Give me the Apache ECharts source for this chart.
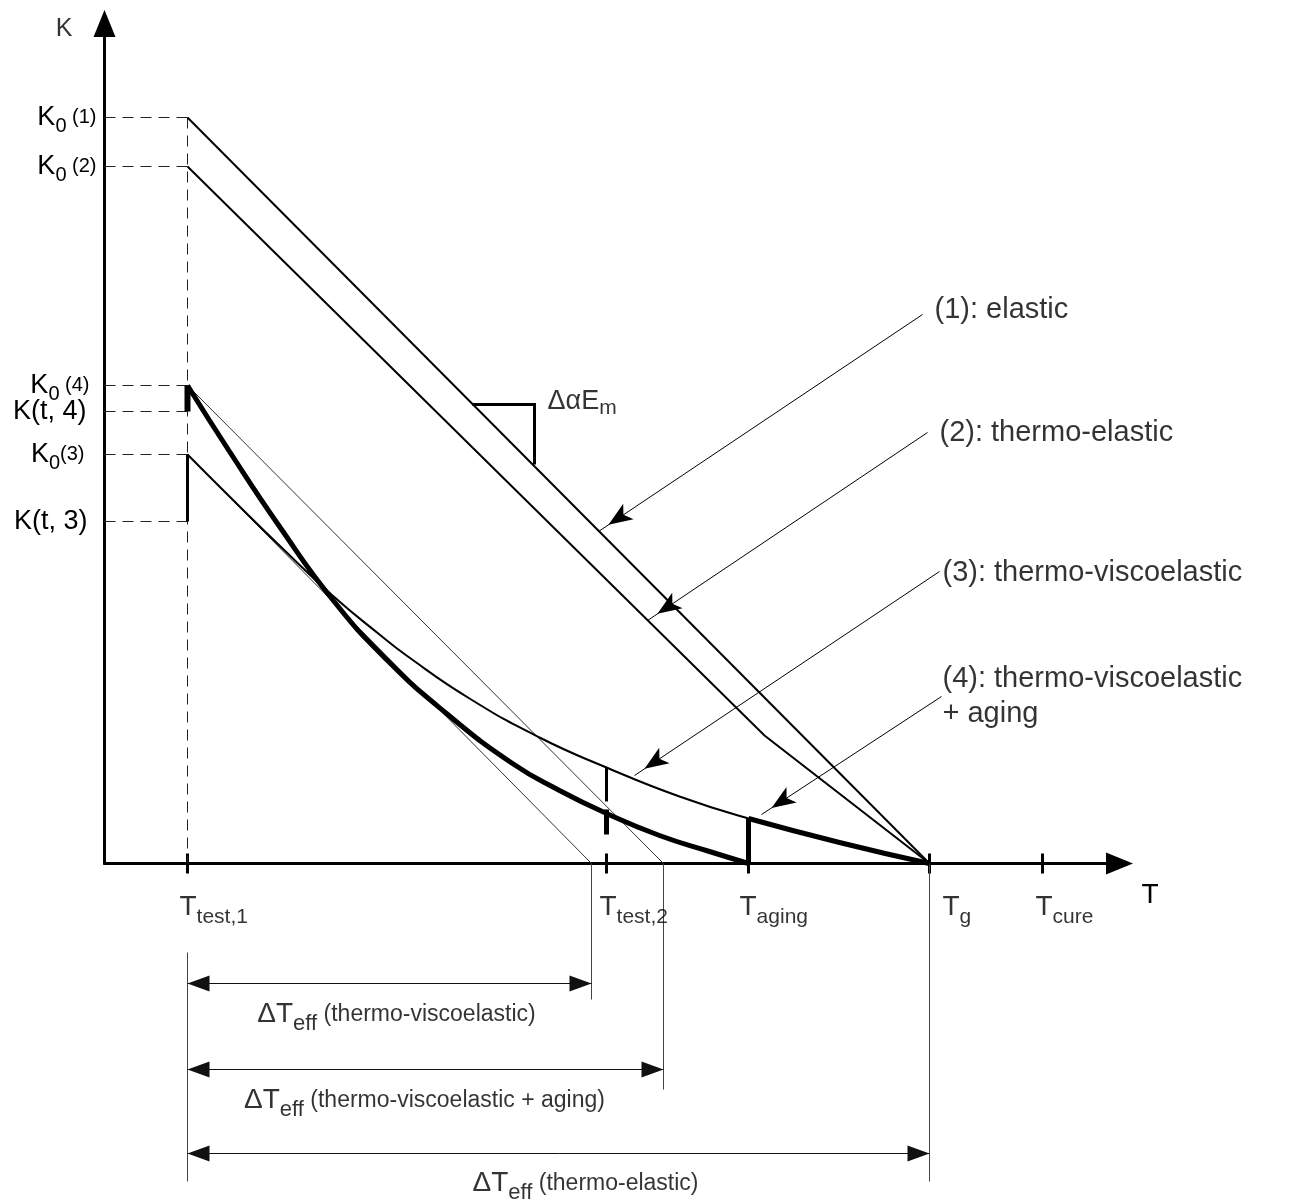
<!DOCTYPE html>
<html>
<head>
<meta charset="utf-8">
<title>K versus T</title>
<script src="https://cdn.jsdelivr.net/npm/echarts@6.0.0/dist/echarts.min.js"></script>
<style>
html, body { margin: 0; padding: 0; background: #fff; }
#chart { width: 1292px; height: 1204px; }
</style>
</head>
<body>
<div id="chart"></div>
<script>
// ===================== values (schematic T / K units) =====================
const T_TICKS      = [83, 502, 644, 825, 938];
const T_TICK_SUBS  = ['test,1', 'test,2', 'aging', 'g', 'cure'];

const K_LEVELS     = [746, 697, 478, 452, 409, 342];
const K_MAIN       = ['K', 'K', 'K', 'K(t, 4)', 'K', 'K(t, 3)'];
const K_SUB        = ['0', '0', '0', '', '0', ''];
const K_TAIL       = [' (1)', ' (2)', ' (4)', '', '(3)', ''];

const ELASTIC_T    = [83, 825];
const ELASTIC_K    = [746, 0];
const THERMO_EL_T  = [83, 660, 825];
const THERMO_EL_K  = [697, 128, 0];
const VISCO_T      = [83, 125, 175, 228, 275, 302, 365, 435, 502, 575, 644, 735, 825];
const VISCO_K      = [409, 367, 318, 268, 229, 208, 165, 126, 96, 67, 45, 21, 0];
const AGING_T      = [83, 125, 175, 228, 282, 342, 408, 455, 502, 555, 605, 644];
const AGING_K      = [478, 412, 337, 264, 204, 150, 100, 73, 50, 28, 12, 0];
const TAN4_T       = [83, 559];
const TAN4_K       = [478, 0];
const TAN3_T       = [83, 487];
const TAN3_K       = [409, 0];
const SLOPE_T      = [368, 430, 430];
const SLOPE_K      = [459, 459, 399];

// relaxation drops: T, K at top, K at bottom
const DROP_T       = [83, 83, 502, 502, 644];
const DROP_K_TOP   = [409, 478, 96, 54, 45];
const DROP_K_BOT   = [342, 452, 62, 29, 0];

// annotation arrows
const NOTE_TEXT    = ['(1): elastic', '(2): thermo-elastic', '(3): thermo-viscoelastic', '(4): thermo-viscoelastic\n+ aging'];
const NOTE_FROM_T  = [818, 823, 835, 837];
const NOTE_FROM_K  = [549, 431, 292, 167];
const NOTE_TO_T    = [494, 543, 530, 657];
const NOTE_TO_K    = [332, 243, 88, 49];

// effective temperature spans
const DT_END_T     = [487, 559, 825];
const DT_TEXT      = ['thermo-viscoelastic', 'thermo-viscoelastic + aging', 'thermo-elastic'];

// ===================== layout / style (not data) =====================
const FONT = "'Liberation Sans', Arial, Helvetica, sans-serif";
const DROP_WIDTH   = [3, 6, 3, 5, 5];
const K_LABEL_PAD  = [0, 0, 7, 10, 12, 9];
const T_LABEL_DX   = [-8, -7, -9, 13, -7];
const NOTE_DX      = [12, 12, 3, 1];
const NOTE_DY      = [-5, 0, 1, 0];
const DT_ROW       = [120, 206, 290];      // px below the T axis (lower helper grid)
const DT_LABEL_ROW = [151, 237, 320];
const DT_LABEL_T   = [292, 320, 481];
const DT_EXT_END   = [136, 226, 318];
const DT_EXT_START = [89, 318];

const pts = (xs, ys) => xs.map((x, i) => [x, ys[i]]);

function line(xs, ys, style, extra) {
  return Object.assign({
    type: 'line', xAxisIndex: 0, yAxisIndex: 0, data: pts(xs, ys), symbol: 'none',
    silent: true, animation: false, clip: false, z: 3,
    emphasis: { disabled: true },
    lineStyle: Object.assign({ color: '#000', width: 2, type: 'solid', cap: 'butt', join: 'miter' }, style)
  }, extra || {});
}

function textSeries(xi, yi, items, labelBase) {
  return {
    type: 'scatter', xAxisIndex: xi, yAxisIndex: yi, symbolSize: 1, clip: false, silent: true,
    animation: false, z: 20, emphasis: { disabled: true },
    itemStyle: { color: 'rgba(0,0,0,0)' },
    label: Object.assign({
      show: true, position: 'inside', color: '#000', fontFamily: FONT,
      formatter: p => items[p.dataIndex].text
    }, labelBase),
    data: items.map(it => ({ value: [it.x, it.y], label: { align: it.align, verticalAlign: it.va, offset: it.off } }))
  };
}

const series = [];

// dashed reference lines
const dash = { color: '#222', width: 1, type: [11, 7] };
K_LEVELS.forEach(k => series.push(line([0, T_TICKS[0]], [k, k], dash)));
series.push(line([T_TICKS[0], T_TICKS[0]], [K_LEVELS[0], 0], dash));

// thin construction lines (parallel to elastic slope)
series.push(line(TAN4_T, TAN4_K, { color: '#333', width: 1 }));
series.push(line(TAN3_T, TAN3_K, { color: '#333', width: 1 }));

// (1) elastic, (2) thermo-elastic
series.push(line(ELASTIC_T, ELASTIC_K, { width: 2 }));
series.push(line(THERMO_EL_T, THERMO_EL_K, { width: 2 }));

// (3) thermo-viscoelastic
series.push(line(VISCO_T, VISCO_K, { width: 2 }, { smooth: 0.5 }));
// (4) thermo-viscoelastic + aging
series.push(line(AGING_T, AGING_K, { width: 5, join: 'round' }, { smooth: 0.5, z: 4 }));
const tailStart = VISCO_T.indexOf(T_TICKS[2]);
series.push(line(VISCO_T.slice(tailStart), VISCO_K.slice(tailStart), { width: 5 }, { smooth: 0.5, z: 4 }));

// relaxation drops
DROP_T.forEach((t, i) => series.push(line([t, t], [DROP_K_TOP[i], DROP_K_BOT[i]], { width: DROP_WIDTH[i] }, { z: 5 })));

// slope triangle
series.push(line(SLOPE_T, SLOPE_K, { width: 3 }));

// annotation arrows
series.push({
  type: 'line', xAxisIndex: 0, yAxisIndex: 0, data: [], symbol: 'none', silent: true, animation: false, clip: false,
  markLine: {
    silent: true, animation: false,
    symbol: ['none', 'arrow'], symbolSize: [14, 24], symbolOffset: [0, [0, 12]],
    itemStyle: { color: '#000' },
    lineStyle: { color: '#000', width: 1, type: 'solid' },
    label: { show: false }, emphasis: { disabled: true },
    data: NOTE_TO_T.map((t, i) => [{ coord: [NOTE_FROM_T[i], NOTE_FROM_K[i]] }, { coord: [t, NOTE_TO_K[i]] }])
  }
});

// lower helper grid: extension lines and ΔT arrows
function lline(xs, ys, style) {
  return line(xs, ys, style, { xAxisIndex: 2, yAxisIndex: 1 });
}
series.push(lline([T_TICKS[0], T_TICKS[0]], DT_EXT_START, { color: '#444', width: 1 }));
DT_END_T.forEach((t, i) => series.push(lline([t, t], [0, DT_EXT_END[i]], { color: '#444', width: 1 })));
series.push({
  type: 'line', xAxisIndex: 2, yAxisIndex: 1, data: [], symbol: 'none', silent: true, animation: false, clip: false,
  markLine: {
    silent: true, animation: false,
    symbol: ['triangle', 'triangle'], symbolSize: [16, 22], symbolOffset: [[0, 11], [0, 11]],
    itemStyle: { color: '#000' },
    lineStyle: { color: '#111', width: 1, type: 'solid' },
    label: { show: false }, emphasis: { disabled: true },
    data: DT_END_T.map((t, i) => [{ coord: [T_TICKS[0], DT_ROW[i]] }, { coord: [t, DT_ROW[i]] }])
  }
});

// ---------- texts ----------
// axis name K
series.push(textSeries(0, 0, [{ x: 0, y: 840, text: 'K', align: 'right', va: 'middle', off: [-32, 6] }],
  { fontSize: 25 }));

// T tick labels
series.push(textSeries(2, 1, T_TICKS.map((t, i) => ({
  x: t, y: 0, text: '{b|T}{s|' + T_TICK_SUBS[i] + '}', align: 'left', va: 'middle', off: [T_LABEL_DX[i], 44]
})), { rich: {
  b: { fontSize: 28, lineHeight: 41, fontFamily: FONT, color: '#000' },
  s: { fontSize: 21, lineHeight: 21, verticalAlign: 'bottom', fontFamily: FONT, color: '#000' }
} }));

// ΔT_eff labels
series.push(textSeries(2, 1, DT_TEXT.map((txt, i) => ({
  x: DT_LABEL_T[i], y: DT_LABEL_ROW[i], text: '{b|ΔT}{s|eff}{p| (' + txt + ')}', align: 'center', va: 'middle', off: [0, 0]
})), { rich: {
  b: { fontSize: 28, lineHeight: 40, fontFamily: FONT, color: '#000' },
  s: { fontSize: 22, lineHeight: 22, verticalAlign: 'bottom', fontFamily: FONT, color: '#000' },
  p: { fontSize: 23, fontFamily: FONT, color: '#000' }
} }));

// slope label
series.push(textSeries(0, 0, [{
  x: SLOPE_T[1], y: SLOPE_K[0], text: '{b|ΔαE}{s|m}', align: 'left', va: 'middle', off: [13, -3]
}], { rich: {
  b: { fontSize: 27, lineHeight: 35, fontFamily: FONT, color: '#000' },
  s: { fontSize: 21, lineHeight: 21, verticalAlign: 'bottom', fontFamily: FONT, color: '#000' }
} }));

// annotation labels
series.push(textSeries(0, 0, NOTE_TEXT.map((txt, i) => ({
  x: NOTE_FROM_T[i], y: NOTE_FROM_K[i], text: txt, align: 'left', va: 'middle', off: [NOTE_DX[i], NOTE_DY[i]]
})), { fontSize: 29, lineHeight: 35 }));

// K axis labels (rich)
const kRich = {};
K_LEVELS.forEach((v, i) => {
  const pad = K_LABEL_PAD[i];
  const hasSub = !!K_SUB[i], hasTail = !!K_TAIL[i];
  kRich['b' + i] = { fontSize: 27, lineHeight: 37, fontFamily: FONT, color: '#000', padding: [0, (hasSub || hasTail) ? 0 : pad, 0, 0] };
  kRich['s' + i] = { fontSize: 20, lineHeight: 20, verticalAlign: 'bottom', fontFamily: FONT, color: '#000', padding: [0, hasTail ? 0 : pad, 0, 0] };
  kRich['p' + i] = { fontSize: 20, fontFamily: FONT, color: '#000', padding: [0, pad, 0, 0] };
});
function kFormatter(v) {
  const i = K_LEVELS.indexOf(v);
  if (i < 0) return '';
  let s = '{b' + i + '|' + K_MAIN[i] + '}';
  if (K_SUB[i]) s += '{s' + i + '|' + K_SUB[i] + '}';
  if (K_TAIL[i]) s += '{p' + i + '|' + K_TAIL[i] + '}';
  return s;
}

const axisBlack = { color: '#000', width: 3 };
const option = {
  backgroundColor: '#fff',
  animation: false,
  grid: [
    { left: 104.5, top: 23.5, width: 1015, height: 840, containLabel: false, outerBoundsMode: 'none' },
    { left: 104.5, top: 863.5, width: 1015, height: 340, containLabel: false, outerBoundsMode: 'none' }
  ],
  xAxis: [
    {
      gridIndex: 0, type: 'value', min: 0, max: 1015, position: 'bottom',
      axisLine: { show: true, onZero: true, symbol: ['none', 'triangle'], symbolSize: [22, 27], lineStyle: axisBlack },
      axisTick: { show: true, inside: false, length: 10, customValues: T_TICKS, lineStyle: axisBlack },
      axisLabel: { show: false }, splitLine: { show: false },
      name: 'T', nameLocation: 'end', nameGap: 22,
      nameTextStyle: { fontSize: 28, fontFamily: FONT, color: '#000', align: 'left', verticalAlign: 'top', padding: [18, 0, 0, 0] }
    },
    {
      gridIndex: 0, type: 'value', min: 0, max: 1015, position: 'bottom',
      axisLine: { show: false, onZero: true },
      axisTick: { show: true, inside: true, length: 10, customValues: T_TICKS, lineStyle: axisBlack },
      axisLabel: { show: false }, splitLine: { show: false }
    },
    { gridIndex: 1, type: 'value', min: 0, max: 1015, show: false }
  ],
  yAxis: [
    {
      gridIndex: 0, type: 'value', min: 0, max: 840,
      axisLine: { show: true, onZero: true, symbol: ['none', 'triangle'], symbolSize: [22, 27], lineStyle: axisBlack },
      axisTick: { show: false }, splitLine: { show: false },
      axisLabel: { show: true, customValues: K_LEVELS, formatter: kFormatter, rich: kRich, margin: 8, align: 'right', hideOverlap: false }
    },
    { gridIndex: 1, type: 'value', min: 0, max: 340, inverse: true, show: false }
  ],
  series: series
};

const chart = echarts.init(document.getElementById('chart'), null, { renderer: 'canvas' });
chart.setOption(option);
</script>
</body>
</html>
